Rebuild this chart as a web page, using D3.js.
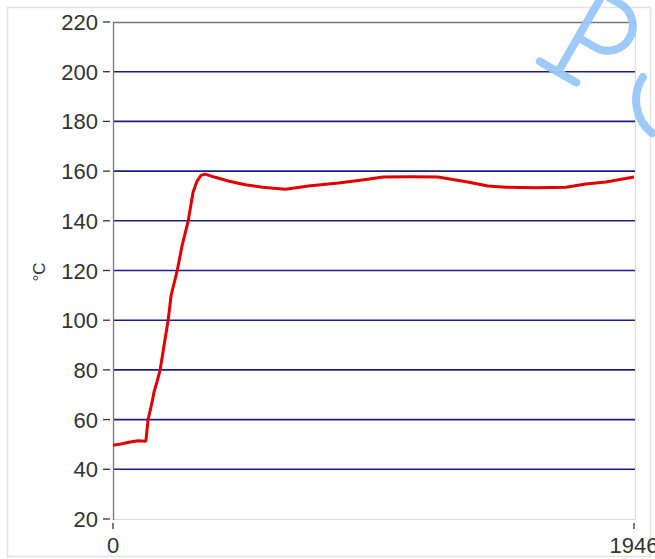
<!DOCTYPE html>
<html><head><meta charset="utf-8">
<script src="https://cdn.jsdelivr.net/npm/d3@7"></script>
<style>html,body{margin:0;padding:0;background:#fff;overflow:hidden}</style>
</head><body>
<svg id="c" width="655" height="559"></svg>
<script>
const timeValues = [0,30,64,94,120,123,131,146,153,165,176,191,206,217,240,258,281,299,314,329,344,382,430,494,558,644,730,842,924,1010,1111,1213,1325,1400,1467,1579,1692,1766,1841,1946];
const tempValues = [49.7,50.2,51.0,51.5,51.3,51.5,60,67,71,75.5,80,90,100,110,120,130,140,151.5,156,158.3,158.8,157.5,156,154.5,153.5,152.7,154,155.2,156.3,157.6,157.7,157.6,155.6,154,153.5,153.3,153.5,154.8,155.6,157.6];
const yTicks = [20,40,60,80,100,120,140,160,180,200,220];
const gridTicks = [40,60,80,100,120,140,160,180,200];
const xTickLabels = [0,1946];
const yLabel = "°C";

const svg = d3.select("#c");
const L=113, R=634, T=22, B=519;
const x = d3.scaleLinear().domain([0,1946]).range([L,R]);
const y = d3.scaleLinear().domain([20,220]).range([B,T]);

// outer frame
svg.append("rect").attr("x",7.5).attr("y",7.5).attr("width",643).attr("height",549)
  .attr("fill","#fff").attr("stroke","#e2e2e2").attr("stroke-width",1.5);

// plot borders
svg.append("line").attr("x1",L).attr("x2",R+1).attr("y1",B+0.5).attr("y2",B+0.5).attr("stroke","#dcdcdc").attr("stroke-width",1.2);
svg.append("line").attr("x1",R+1.5).attr("x2",R+1.5).attr("y1",T).attr("y2",B).attr("stroke","#dcdcdc").attr("stroke-width",1.2);

// grid
svg.append("g").selectAll("line").data(gridTicks).join("line")
  .attr("x1",L).attr("x2",R+1).attr("y1",d=>y(d)).attr("y2",d=>y(d))
  .attr("stroke","#1c1c8a").attr("stroke-width",1.6);

svg.append("line").attr("x1",L).attr("x2",R+2).attr("y1",T+0.5).attr("y2",T+0.5).attr("stroke","#777").attr("stroke-width",1.3);
svg.append("line").attr("x1",L+0.5).attr("x2",L+0.5).attr("y1",T).attr("y2",B+1).attr("stroke","#777").attr("stroke-width",1.3);

// y axis ticks & labels
const yt = svg.append("g");
yt.selectAll("line").data(yTicks).join("line")
  .attr("x1",103).attr("x2",110).attr("y1",d=>y(d)).attr("y2",d=>y(d))
  .attr("stroke","#333").attr("stroke-width",1.3);
yt.selectAll("text").data(yTicks).join("text")
  .attr("x",98).attr("y",d=>y(d)+8).attr("text-anchor","end")
  .attr("font-family","Liberation Sans, Arial, sans-serif").attr("font-size",22)
  .attr("fill","#333").text(d=>d);

// x ticks & labels
const xt = svg.append("g");
xt.selectAll("line").data(xTickLabels).join("line")
  .attr("x1",d=>x(d)).attr("x2",d=>x(d)).attr("y1",523).attr("y2",529)
  .attr("stroke","#333").attr("stroke-width",1.3);
xt.selectAll("text").data(xTickLabels).join("text")
  .attr("x",d=>x(d)).attr("y",553).attr("text-anchor","middle")
  .attr("font-family","Liberation Sans, Arial, sans-serif").attr("font-size",22)
  .attr("fill","#333").text(d=>d);

// y label
svg.append("text").attr("transform","translate(45,272) rotate(-90)")
  .attr("text-anchor","middle").attr("font-family","Liberation Sans, Arial, sans-serif")
  .attr("font-size",17).attr("fill","#333").text(yLabel);

// data line
const pts = timeValues.map((t,i)=>[t,tempValues[i]]);
svg.append("path").datum(pts)
  .attr("d", d3.line().x(d=>x(d[0])).y(d=>y(d[1])).curve(d3.curveLinear))
  .attr("fill","none").attr("stroke","#e00000").attr("stroke-width",3).attr("stroke-linejoin","round");

// watermark
const wm = svg.append("g").attr("fill","none").attr("stroke","#98c8f8").attr("stroke-width",8).attr("stroke-linecap","round").attr("opacity",0.95);
const p = wm.append("g").attr("transform","translate(558,72) rotate(30)");
p.append("path").attr("d","M0,0 L0,-100 M-21,0 L21,0 M0,-90 L20,-90 A25,25 0 0 1 20,-40 L0,-40");
wm.append("path").attr("d","M643,77 A42,42 0 0 0 652,133");
</script>
</body></html>
